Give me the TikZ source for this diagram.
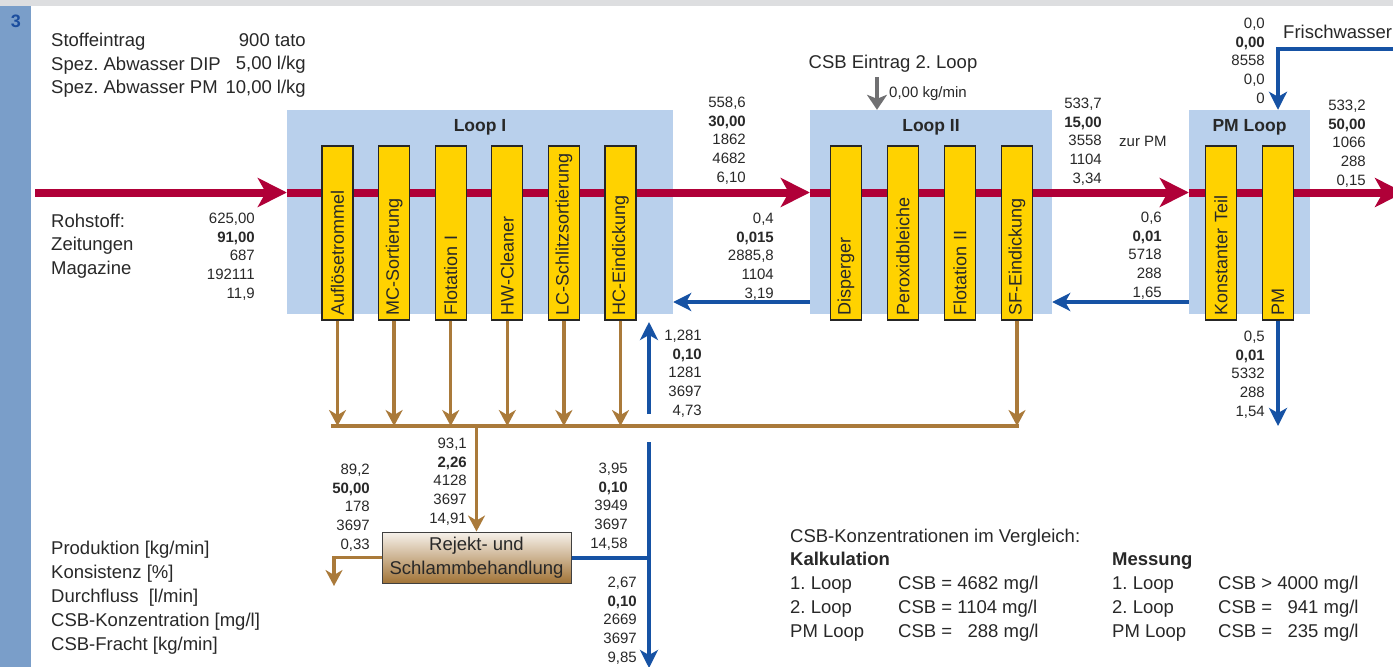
\documentclass[tikz,border=0pt]{standalone}
\usepackage{fontspec}
\setmainfont{Liberation Sans}
\usepackage{xcolor}
\usetikzlibrary{arrows.meta, positioning, calc}
\definecolor{figFrame}{RGB}{221,222,224}
\definecolor{figBand}{RGB}{122,158,201}
\definecolor{figNavy}{RGB}{28,78,158}
\definecolor{figLoop}{RGB}{185,208,236}
\definecolor{figY}{RGB}{255,210,0}
\definecolor{figR}{RGB}{176,0,56}
\definecolor{figB}{RGB}{22,82,164}
\definecolor{figBr}{RGB}{170,122,58}
\definecolor{figGr}{RGB}{112,112,114}
\definecolor{figTxt}{RGB}{40,40,40}
\newcommand{\txtfont}{\fontsize{18.5}{23.5}\selectfont}
\newcommand{\numfont}{\fontsize{15}{18.75}\selectfont}
\tikzset{
  loopbox/.style={fill=figLoop, minimum height=204pt, inner sep=0pt},
  looptitle/.style={font=\fontsize{17.5}{20}\selectfont\bfseries, text=figTxt, inner sep=0pt},
  unit/.style={draw=black!85, line width=1.2pt, fill=figY, rotate=90, minimum width=174pt,
    minimum height=31pt, text width=165pt, inner xsep=4.5pt, inner ysep=0pt, align=left,
    font=\fontsize{18}{20}\selectfont, text=figTxt},
  rejbox/.style={draw=black!75, line width=1pt, top color=figBr!10, bottom color=figBr!95!black,
    minimum width=189pt, minimum height=51pt, inner sep=0pt, align=center,
    font=\fontsize{18.5}{24}\selectfont, text=figTxt},
  txt/.style={font=\txtfont, text=figTxt, inner sep=0pt, align=left},
  num/.style={font=\numfont, text=figTxt, inner sep=0pt, align=right, anchor=north east},
  fibre/.style={figR, line width=8pt, -{Stealth[length=29pt, width=29pt, inset=8pt]}},
  water/.style={figB, line width=4pt, -{Stealth[length=18pt, width=18pt, inset=5pt]}},
  waterline/.style={figB, line width=4pt},
  reject/.style={figBr, line width=3.5pt, -{Stealth[length=16pt, width=17pt, inset=5pt]}},
  rejectline/.style={figBr, line width=3.5pt, line cap=rect},
  csb/.style={figGr, line width=4pt, -{Stealth[length=15pt, width=20pt, inset=4pt]}}
}

\begin{document}
\frenchspacing
\begin{tikzpicture}[x=1pt, y=-1pt]
\useasboundingbox (0,0) rectangle (1393,667);
\clip (0,0) rectangle (1393,667);
% ===== frame =====
\fill[figFrame] (0,0) rectangle (1393,6);
\fill[figBand] (0,6) rectangle (31,667);
\node[font=\fontsize{18}{20}\selectfont\bfseries, text=figNavy, inner sep=0pt] (pageno) at (16,21.5) {3};
% ===== loops =====
\node[loopbox, minimum width=386pt] (loopI) at (480,212) {};
\node[loopbox, minimum width=242pt] (loopII) at (931,212) {};
\node[loopbox, minimum width=121pt] (pmloop) at (1249.5,212) {};
\node[looptitle, below=9.7pt of loopI.north] (tI) {Loop I};
\node[looptitle, below=9.7pt of loopII.north] (tII) {Loop II};
\node[looptitle, below=9.7pt of pmloop.north] (tPM) {PM Loop};
% main fibre line, through all loops
\coordinate (rin) at (35,192.5);
\coordinate (rout) at (1404,192.5);
\draw[fibre] (rin) -- (rin -| loopI.west);
\draw[fibre] (rin -| loopI.west) -- (rin -| loopII.west);
\draw[fibre] (rin -| loopII.west) -- (rin -| pmloop.west);
\draw[fibre] (rin -| pmloop.west) -- (rout);
% process units
\foreach \nm/\lbl [count=\i from 0] in {auf/Auflösetrommel, mcs/MC-Sortierung, flo/Flotation I,
    hwc/HW-Cleaner, lcs/LC-Schlitzsortierung, hce/HC-Eindickung}
  \node[unit] (\nm) at ({337.5+56.6*\i},233) {\lbl};
\foreach \nm/\lbl [count=\i from 0] in {dis/Disperger, per/Peroxidbleiche, fl2/Flotation II, sfe/SF-Eindickung}
  \node[unit] (\nm) at ({846+57*\i},233) {\lbl};
\node[unit] (kon) at (1221,233) {Konstanter Teil};
\node[unit] (pm) at (1278,233) {PM};
% ===== rejects =====
\coordinate (coll) at (333,426);
\foreach \nm in {auf,mcs,flo,hwc,lcs,hce,sfe}
  \draw[reject] (\nm.west) -- (\nm.west |- coll);
\draw[rejectline] (coll) -- (coll -| sfe.west);
\node[rejbox] (rej) at (476.5,557.5) {Rejekt- und\\Schlammbehandlung};
\draw[reject] (rej.north |- coll) -- (rej.north);
\coordinate (sludge) at (334,586);
\draw[reject] (rej.west) -| (sludge);
% ===== water =====
\coordinate (ret) at (0,302);
\draw[water] (ret -| loopII.west) -- (ret -| loopI.east);
\draw[water] (ret -| pmloop.west) -- (ret -| loopII.east);
\coordinate (cwin) at (649,414);
\coordinate (cwtip) at (649,322);
\draw[water] (cwin) -- (cwtip);
\coordinate (wtop) at (649,442);
\coordinate (wout) at (649,668);
\draw[waterline] (rej.east) -- (rej.east -| wtop);
\draw[water] (wtop) -- (wout);
\coordinate (pmout) at (1278,426);
\draw[water] (pm.west) -- (pm.west |- pmout);
\coordinate (fwin) at (1400,49);
\draw[water] (fwin) -| (pm.east |- pmloop.north);
% CSB input
\coordinate (csbin) at (877,77);
\draw[csb] (csbin) -- (csbin |- loopII.north);
\node[txt, anchor=base] (csbtxt) at (893,68.6) {CSB Eintrag 2. Loop};
\node[txt, font=\numfont, anchor=base west] (csbval) at (889,97.4) {0,00 kg/min};
% ===== texts =====
\node[txt, anchor=north west] (feed) at (51,33.2) {Stoffeintrag\\Spez. Abwasser DIP\\Spez. Abwasser PM};
\node[txt, anchor=north east, align=right] (feedval) at (306,33.2) {900 tato\\5,00 l/kg\\10,00 l/kg};
\node[txt, anchor=north west] (raw) at (51,213.4) {Rohstoff:\\Zeitungen\\Magazine};
\node[txt, anchor=base west] (fresh) at (1283,38.8) {Frischwasser};
\node[txt, font=\numfont, anchor=base west] (zurpm) at (1119,146.4) {zur PM};
\node[txt, anchor=north west, font=\fontsize{18.5}{24}\selectfont] (legend) at (51,540.4)
  {Produktion [kg/min]\\Konsistenz [\%]\\Durchfluss\ \ [l/min]\\CSB-Konzentration [mg/l]\\CSB-Fracht [kg/min]};
% stream data
\node[num] (rawdata) at (255,212.6) {625,00\\\textbf{91,00}\\687\\192111\\11,9};
\node[num] (l1data) at (746,96.6) {558,6\\\textbf{30,00}\\1862\\4682\\6,10};
\node[num] (l2retdata) at (774,212.6) {0,4\\\textbf{0,015}\\2885,8\\1104\\3,19};
\node[num] (l2data) at (1102,97.6) {533,7\\\textbf{15,00}\\3558\\1104\\3,34};
\node[num] (pmretdata) at (1162,211.6) {0,6\\\textbf{0,01}\\5718\\288\\1,65};
\node[num] (freshdata) at (1265,17.6) {0,0\\\textbf{0,00}\\8558\\0,0\\0};
\node[num] (pmdata) at (1366,99.6) {533,2\\\textbf{50,00}\\1066\\288\\0,15};
\node[num] (pmwdata) at (1265,330.6) {0,5\\\textbf{0,01}\\5332\\288\\1,54};
\node[num] (cwdata) at (702,329.6) {1,281\\\textbf{0,10}\\1281\\3697\\4,73};
\node[num] (colldata) at (467,437.6) {93,1\\\textbf{2,26}\\4128\\3697\\14,91};
\node[num] (sludgedata) at (370,463.6) {89,2\\\textbf{50,00}\\178\\3697\\0,33};
\node[num] (filtdata) at (628,462.6) {3,95\\\textbf{0,10}\\3949\\3697\\14,58};
\node[num] (wwdata) at (637,576.6) {2,67\\\textbf{0,10}\\2669\\3697\\9,85};
% ===== CSB comparison =====
\node[txt, anchor=base west] (cmp) at (790,542.6) {CSB-Konzentrationen im Vergleich:};
\node[txt, anchor=north west, font=\fontsize{18.5}{24}\selectfont] (kalk) at (790,551.4)
  {\textbf{Kalkulation}\\1. Loop\\2. Loop\\PM Loop};
\node[txt, anchor=north west, font=\fontsize{18.5}{24}\selectfont] (kalkval) at (898,575.4)
  {CSB = 4682 mg/l\\CSB = 1104 mg/l\\CSB = \phantom{0}288 mg/l};
\node[txt, anchor=north west, font=\fontsize{18.5}{24}\selectfont] (mess) at (1112,551.4)
  {\textbf{Messung}\vphantom{Kl}\\1. Loop\\2. Loop\\PM Loop};
\node[txt, anchor=north west, font=\fontsize{18.5}{24}\selectfont] (messval) at (1218,575.4)
  {CSB > 4000 mg/l\\CSB = \phantom{0}941 mg/l\\CSB = \phantom{0}235 mg/l};
\end{tikzpicture}
\end{document}
